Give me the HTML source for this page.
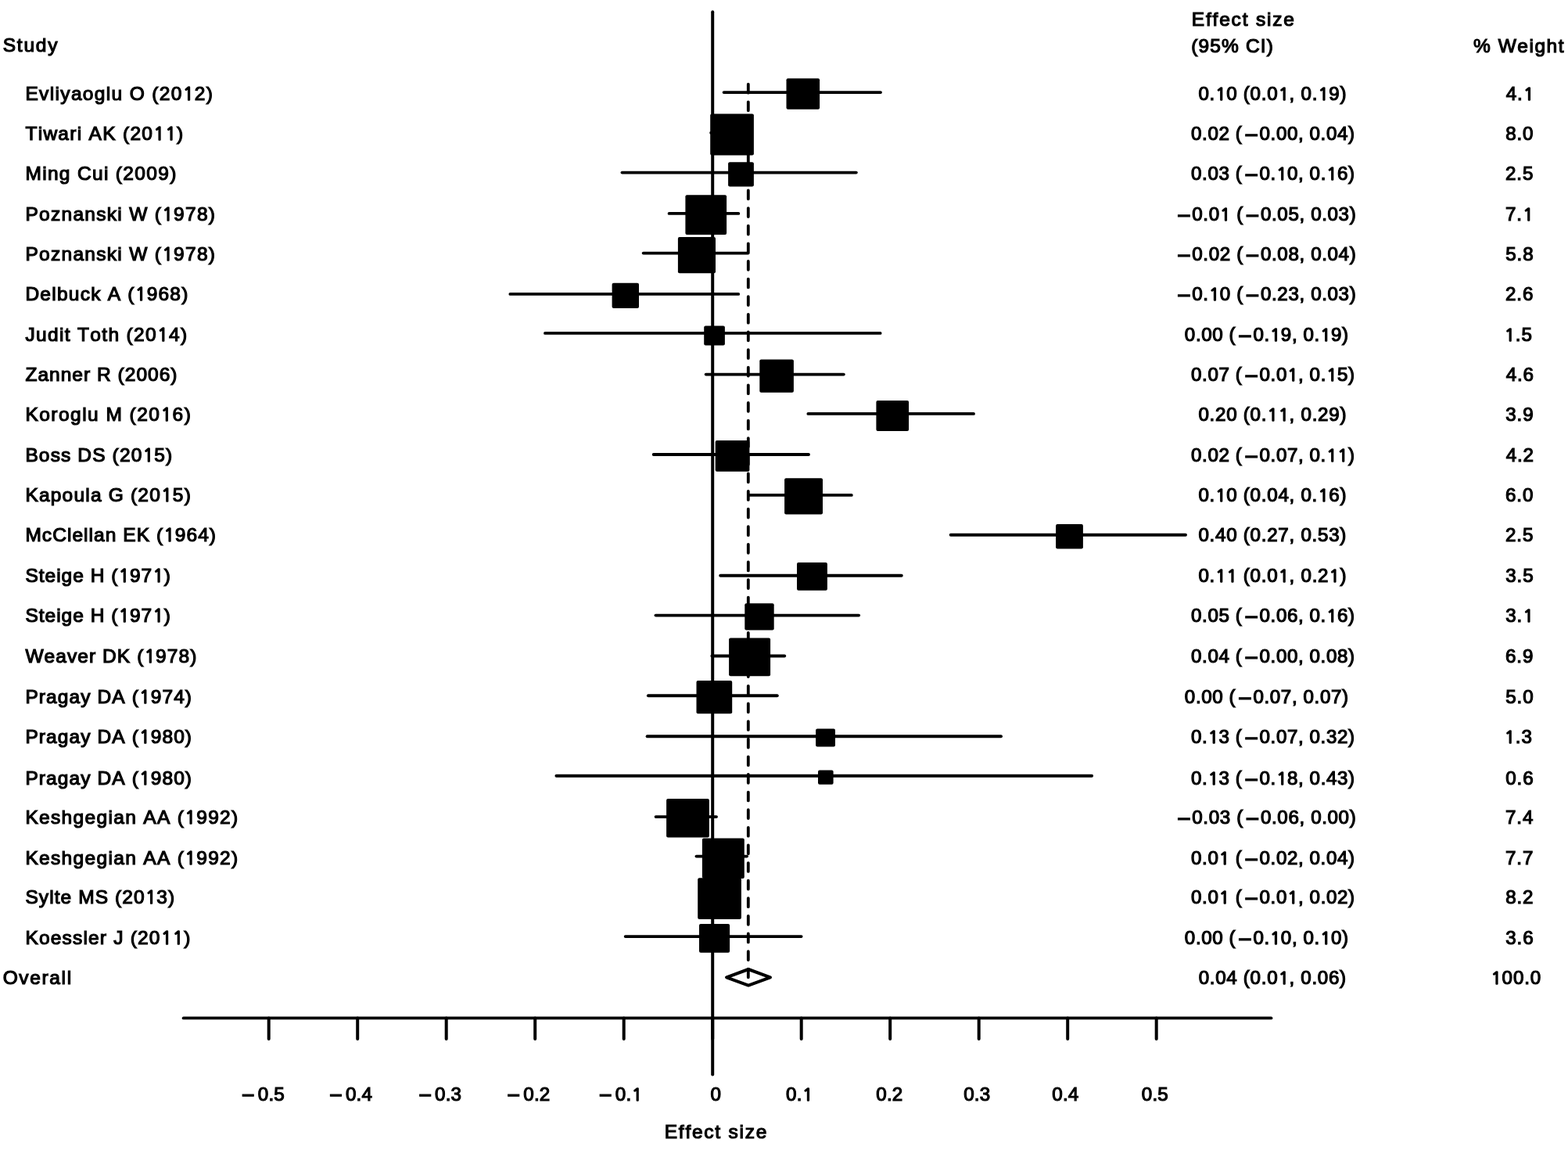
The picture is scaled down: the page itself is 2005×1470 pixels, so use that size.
<!DOCTYPE html>
<html><head><meta charset="utf-8"><title>Forest plot</title>
<style>html,body{margin:0;padding:0;background:#fff;} svg{display:block;} .o{font-family:"NanumGothic","Liberation Sans",sans-serif;font-size:22.5988px;stroke-width:1.7px;}</style>
</head><body>
<svg width="2005" height="1470" viewBox="0 0 2005 1470">
<rect width="2005" height="1470" fill="#fff"/>
<line x1="911.2" y1="15.3" x2="911.2" y2="1373.5" stroke="#000" stroke-width="4" stroke-linecap="round"/>
<line x1="956.8" y1="107.75" x2="956.8" y2="1249.3" stroke="#000" stroke-width="3.8" stroke-linecap="round" stroke-dasharray="10.9 11.72"/>
<line x1="925.6" y1="118.1" x2="1126.0" y2="118.1" stroke="#000" stroke-width="3.9" stroke-linecap="round"/>
<rect x="1005.5" y="100.3" width="42.6" height="39.4" rx="2" ry="2" fill="#000"/>
<line x1="909.2" y1="169.8" x2="956.6" y2="169.8" stroke="#000" stroke-width="3.9" stroke-linecap="round"/>
<rect x="908.2" y="145.5" width="55.7" height="52.9" rx="2" ry="2" fill="#000"/>
<line x1="795.5" y1="220.6" x2="1094.8" y2="220.6" stroke="#000" stroke-width="3.9" stroke-linecap="round"/>
<rect x="931.1" y="207.3" width="32.8" height="31.3" rx="2" ry="2" fill="#000"/>
<line x1="855.6" y1="272.9" x2="944.3" y2="272.9" stroke="#000" stroke-width="3.9" stroke-linecap="round"/>
<rect x="876.4" y="249.2" width="52.7" height="50.8" rx="2" ry="2" fill="#000"/>
<line x1="822.7" y1="323.6" x2="956.6" y2="323.6" stroke="#000" stroke-width="3.9" stroke-linecap="round"/>
<rect x="866.9" y="302.9" width="48.1" height="46.4" rx="2" ry="2" fill="#000"/>
<line x1="652.4" y1="375.9" x2="944.2" y2="375.9" stroke="#000" stroke-width="3.9" stroke-linecap="round"/>
<rect x="782.6" y="361.7" width="34.4" height="32.2" rx="2" ry="2" fill="#000"/>
<line x1="697.0" y1="425.9" x2="1125.6" y2="425.9" stroke="#000" stroke-width="3.9" stroke-linecap="round"/>
<rect x="900.2" y="416.5" width="26.7" height="25.1" rx="2" ry="2" fill="#000"/>
<line x1="902.7" y1="478.6" x2="1078.8" y2="478.6" stroke="#000" stroke-width="3.9" stroke-linecap="round"/>
<rect x="971.3" y="459.4" width="43.6" height="42.3" rx="2" ry="2" fill="#000"/>
<line x1="1033.4" y1="528.9" x2="1245.0" y2="528.9" stroke="#000" stroke-width="3.9" stroke-linecap="round"/>
<rect x="1120.4" y="512.0" width="41.7" height="38.9" rx="2" ry="2" fill="#000"/>
<line x1="835.7" y1="581.0" x2="1034.0" y2="581.0" stroke="#000" stroke-width="3.9" stroke-linecap="round"/>
<rect x="914.7" y="563.1" width="43.7" height="39.6" rx="2" ry="2" fill="#000"/>
<line x1="957.9" y1="632.9" x2="1088.8" y2="632.9" stroke="#000" stroke-width="3.9" stroke-linecap="round"/>
<rect x="1003.1" y="611.3" width="48.9" height="46.1" rx="2" ry="2" fill="#000"/>
<line x1="1215.7" y1="683.8" x2="1516.0" y2="683.8" stroke="#000" stroke-width="3.9" stroke-linecap="round"/>
<rect x="1350.1" y="670.0" width="34.8" height="31.6" rx="2" ry="2" fill="#000"/>
<line x1="921.2" y1="735.8" x2="1152.8" y2="735.8" stroke="#000" stroke-width="3.9" stroke-linecap="round"/>
<rect x="1019.0" y="719.0" width="38.9" height="35.8" rx="2" ry="2" fill="#000"/>
<line x1="838.5" y1="786.6" x2="1098.1" y2="786.6" stroke="#000" stroke-width="3.9" stroke-linecap="round"/>
<rect x="952.3" y="771.3" width="37.4" height="34.3" rx="2" ry="2" fill="#000"/>
<line x1="910.4" y1="838.5" x2="1003.2" y2="838.5" stroke="#000" stroke-width="3.9" stroke-linecap="round"/>
<rect x="932.1" y="815.4" width="53.0" height="48.9" rx="2" ry="2" fill="#000"/>
<line x1="828.9" y1="889.3" x2="993.8" y2="889.3" stroke="#000" stroke-width="3.9" stroke-linecap="round"/>
<rect x="890.5" y="870.0" width="45.7" height="42.2" rx="2" ry="2" fill="#000"/>
<line x1="827.6" y1="941.2" x2="1280.0" y2="941.2" stroke="#000" stroke-width="3.9" stroke-linecap="round"/>
<rect x="1043.1" y="931.6" width="24.9" height="22.9" rx="2" ry="2" fill="#000"/>
<line x1="711.4" y1="991.8" x2="1396.1" y2="991.8" stroke="#000" stroke-width="3.9" stroke-linecap="round"/>
<rect x="1046.0" y="984.4" width="19.6" height="18.4" rx="2" ry="2" fill="#000"/>
<line x1="838.6" y1="1044.1" x2="916.0" y2="1044.1" stroke="#000" stroke-width="3.9" stroke-linecap="round"/>
<rect x="852.1" y="1020.9" width="54.8" height="49.7" rx="2" ry="2" fill="#000"/>
<line x1="890.5" y1="1094.6" x2="955.0" y2="1094.6" stroke="#000" stroke-width="3.9" stroke-linecap="round"/>
<rect x="897.9" y="1071.4" width="53.9" height="51.6" rx="2" ry="2" fill="#000"/>
<line x1="902.0" y1="1146.7" x2="932.0" y2="1146.7" stroke="#000" stroke-width="3.9" stroke-linecap="round"/>
<rect x="892.2" y="1122.2" width="55.7" height="52.9" rx="2" ry="2" fill="#000"/>
<line x1="799.7" y1="1197.1" x2="1024.6" y2="1197.1" stroke="#000" stroke-width="3.9" stroke-linecap="round"/>
<rect x="894.0" y="1181.1" width="39.1" height="36.6" rx="2" ry="2" fill="#000"/>
<polygon points="929,1249.3 957,1239 985,1249.3 957,1259.6" fill="none" stroke="#000" stroke-width="4" stroke-linejoin="round"/>
<line x1="234.6" y1="1301.4" x2="1625.5" y2="1301.4" stroke="#000" stroke-width="3.8" stroke-linecap="round"/>
<line x1="343.7" y1="1301.4" x2="343.7" y2="1328" stroke="#000" stroke-width="4" stroke-linecap="round"/>
<line x1="457.2" y1="1301.4" x2="457.2" y2="1328" stroke="#000" stroke-width="4" stroke-linecap="round"/>
<line x1="570.7" y1="1301.4" x2="570.7" y2="1328" stroke="#000" stroke-width="4" stroke-linecap="round"/>
<line x1="684.2" y1="1301.4" x2="684.2" y2="1328" stroke="#000" stroke-width="4" stroke-linecap="round"/>
<line x1="797.7" y1="1301.4" x2="797.7" y2="1328" stroke="#000" stroke-width="4" stroke-linecap="round"/>
<line x1="911.2" y1="1301.4" x2="911.2" y2="1328" stroke="#000" stroke-width="4" stroke-linecap="round"/>
<line x1="1024.7" y1="1301.4" x2="1024.7" y2="1328" stroke="#000" stroke-width="4" stroke-linecap="round"/>
<line x1="1138.2" y1="1301.4" x2="1138.2" y2="1328" stroke="#000" stroke-width="4" stroke-linecap="round"/>
<line x1="1251.7" y1="1301.4" x2="1251.7" y2="1328" stroke="#000" stroke-width="4" stroke-linecap="round"/>
<line x1="1365.2" y1="1301.4" x2="1365.2" y2="1328" stroke="#000" stroke-width="4" stroke-linecap="round"/>
<line x1="1478.7" y1="1301.4" x2="1478.7" y2="1328" stroke="#000" stroke-width="4" stroke-linecap="round"/>
<g font-family="'Liberation Sans', Arial, Helvetica, sans-serif" font-size="24.5" fill="#000" stroke="#000" stroke-width="1.2" style="font-kerning:none;font-variant-ligatures:none">
<text letter-spacing="0.2" font-size="24.2"><tspan x="309.08" y="1410.18" font-size="28.82">−</tspan><tspan x="329.75" y="1406.70">0.5</tspan></text>
<text letter-spacing="0.2" font-size="24.2"><tspan x="421.28" y="1410.18" font-size="28.82">−</tspan><tspan x="441.95" y="1406.70">0.4</tspan></text>
<text letter-spacing="0.2" font-size="24.2"><tspan x="535.38" y="1410.18" font-size="28.82">−</tspan><tspan x="556.05" y="1406.70">0.3</tspan></text>
<text letter-spacing="0.2" font-size="24.2"><tspan x="648.58" y="1410.18" font-size="28.82">−</tspan><tspan x="669.25" y="1406.70">0.2</tspan></text>
<text letter-spacing="0.2" font-size="24.2"><tspan x="766.08" y="1410.18" font-size="28.82">−</tspan><tspan x="786.75" y="1406.70">0.</tspan><tspan x="807.64" y="1406.70" class="o" style="font-size:22.32px">1</tspan></text>
<text letter-spacing="0.2" font-size="24.2"><tspan x="908.45" y="1406.70">0</tspan></text>
<text letter-spacing="0.2" font-size="24.2"><tspan x="1005.05" y="1406.70">0.</tspan><tspan x="1025.94" y="1406.70" class="o" style="font-size:22.32px">1</tspan></text>
<text letter-spacing="0.2" font-size="24.2"><tspan x="1120.25" y="1406.70">0.2</tspan></text>
<text letter-spacing="0.2" font-size="24.2"><tspan x="1232.15" y="1406.70">0.3</tspan></text>
<text letter-spacing="0.2" font-size="24.2"><tspan x="1345.25" y="1406.70">0.4</tspan></text>
<text letter-spacing="0.2" font-size="24.2"><tspan x="1459.75" y="1406.70">0.5</tspan></text>
<text letter-spacing="1.748"><tspan x="849.79" y="1454.90">Effect size</tspan></text>
<text letter-spacing="1.778"><tspan x="3.69" y="66.40">Study</tspan></text>
<text letter-spacing="1.353"><tspan x="32.40" y="128.00">Evliyaoglu O (20</tspan><tspan x="234.10" y="128.00" class="o">1</tspan><tspan x="248.78" y="128.00">2)</tspan></text>
<text letter-spacing="1.292"><tspan x="32.40" y="179.00">Tiwari AK (20</tspan><tspan x="196.53" y="179.00" class="o">1</tspan><tspan x="211.45" y="179.00" class="o">1</tspan><tspan x="226.07" y="179.00">)</tspan></text>
<text letter-spacing="1.33"><tspan x="32.40" y="230.00">Ming Cui (2009)</tspan></text>
<text letter-spacing="1.296"><tspan x="32.40" y="282.00">Poznanski W (</tspan><tspan x="207.48" y="282.00" class="o">1</tspan><tspan x="222.10" y="282.00">978)</tspan></text>
<text letter-spacing="1.296"><tspan x="32.40" y="333.00">Poznanski W (</tspan><tspan x="207.48" y="333.00" class="o">1</tspan><tspan x="222.10" y="333.00">978)</tspan></text>
<text letter-spacing="1.249"><tspan x="32.40" y="384.00">Delbuck A (</tspan><tspan x="173.07" y="384.00" class="o">1</tspan><tspan x="187.64" y="384.00">968)</tspan></text>
<text letter-spacing="1.344"><tspan x="32.40" y="436.00">Judit Toth (20</tspan><tspan x="201.32" y="436.00" class="o">1</tspan><tspan x="215.99" y="436.00">4)</tspan></text>
<text letter-spacing="1.026"><tspan x="32.40" y="487.00">Zanner R (2006)</tspan></text>
<text letter-spacing="1.475"><tspan x="32.40" y="538.00">Koroglu M (20</tspan><tspan x="205.75" y="538.00" class="o">1</tspan><tspan x="220.55" y="538.00">6)</tspan></text>
<text letter-spacing="1.137"><tspan x="32.40" y="590.00">Boss DS (20</tspan><tspan x="182.73" y="590.00" class="o">1</tspan><tspan x="197.20" y="590.00">5)</tspan></text>
<text letter-spacing="1.201"><tspan x="32.40" y="641.00">Kapoula G (20</tspan><tspan x="206.31" y="641.00" class="o">1</tspan><tspan x="220.83" y="641.00">5)</tspan></text>
<text letter-spacing="1.052"><tspan x="32.40" y="692.00">McClellan EK (</tspan><tspan x="209.44" y="692.00" class="o">1</tspan><tspan x="223.82" y="692.00">964)</tspan></text>
<text letter-spacing="1.002"><tspan x="32.40" y="744.00">Steige H (</tspan><tspan x="151.65" y="744.00" class="o">1</tspan><tspan x="165.98" y="744.00">97</tspan><tspan x="195.54" y="744.00" class="o">1</tspan><tspan x="209.87" y="744.00">)</tspan></text>
<text letter-spacing="1.002"><tspan x="32.40" y="795.00">Steige H (</tspan><tspan x="151.65" y="795.00" class="o">1</tspan><tspan x="165.98" y="795.00">97</tspan><tspan x="195.54" y="795.00" class="o">1</tspan><tspan x="209.87" y="795.00">)</tspan></text>
<text letter-spacing="1.069"><tspan x="32.40" y="847.00">Weaver DK (</tspan><tspan x="184.68" y="847.00" class="o">1</tspan><tspan x="199.07" y="847.00">978)</tspan></text>
<text letter-spacing="1.102"><tspan x="32.40" y="899.00">Pragay DA (</tspan><tspan x="178.26" y="899.00" class="o">1</tspan><tspan x="192.68" y="899.00">974)</tspan></text>
<text letter-spacing="1.102"><tspan x="32.40" y="950.00">Pragay DA (</tspan><tspan x="178.26" y="950.00" class="o">1</tspan><tspan x="192.68" y="950.00">980)</tspan></text>
<text letter-spacing="1.102"><tspan x="32.40" y="1003.00">Pragay DA (</tspan><tspan x="178.26" y="1003.00" class="o">1</tspan><tspan x="192.68" y="1003.00">980)</tspan></text>
<text letter-spacing="1.331"><tspan x="32.40" y="1053.00">Keshgegian AA (</tspan><tspan x="236.53" y="1053.00" class="o">1</tspan><tspan x="251.19" y="1053.00">992)</tspan></text>
<text letter-spacing="1.331"><tspan x="32.40" y="1105.00">Keshgegian AA (</tspan><tspan x="236.53" y="1105.00" class="o">1</tspan><tspan x="251.19" y="1105.00">992)</tspan></text>
<text letter-spacing="1.083"><tspan x="32.40" y="1155.00">Sylte MS (20</tspan><tspan x="185.94" y="1155.00" class="o">1</tspan><tspan x="200.35" y="1155.00">3)</tspan></text>
<text letter-spacing="1.188"><tspan x="32.40" y="1207.00">Koessler J (20</tspan><tspan x="205.93" y="1207.00" class="o">1</tspan><tspan x="220.74" y="1207.00" class="o">1</tspan><tspan x="235.25" y="1207.00">)</tspan></text>
<text letter-spacing="1.649"><tspan x="3.64" y="1258.00">Overall</tspan></text>
<text letter-spacing="1.808"><tspan x="1523.79" y="33.40">Effect size</tspan></text>
<text letter-spacing="1.125"><tspan x="1523.28" y="66.60">(95% CI)</tspan></text>
<text letter-spacing="1.53"><tspan x="1884.03" y="66.60">% Weight</tspan></text>
<text letter-spacing="0.716" font-size="24.2"><tspan x="1532.45" y="128.40">0.</tspan><tspan x="1554.37" y="128.40" class="o" style="font-size:22.32px">1</tspan><tspan x="1568.24" y="128.40">0 (0.0</tspan><tspan x="1634.72" y="128.40" class="o" style="font-size:22.32px">1</tspan><tspan x="1648.60" y="128.40">, 0.</tspan><tspan x="1685.39" y="128.40" class="o" style="font-size:22.32px">1</tspan><tspan x="1699.27" y="128.40">9)</tspan></text>
<text letter-spacing="0.9" font-size="24.2"><tspan x="1925.64" y="128.40">4.</tspan><tspan x="1947.93" y="128.40" class="o" style="font-size:22.32px">1</tspan></text>
<text letter-spacing="0.583" font-size="24.2"><tspan x="1523.05" y="179.40">0.02 (</tspan><tspan x="1591.51" y="183.43" font-size="30.46">−</tspan><tspan x="1610.57" y="179.40">0.00, 0.04)</tspan></text>
<text letter-spacing="0.9" font-size="24.2"><tspan x="1925.15" y="179.40">8.0</tspan></text>
<text letter-spacing="0.583" font-size="24.2"><tspan x="1523.05" y="230.40">0.03 (</tspan><tspan x="1591.51" y="234.43" font-size="30.46">−</tspan><tspan x="1610.57" y="230.40">0.</tspan><tspan x="1632.21" y="230.40" class="o" style="font-size:22.32px">1</tspan><tspan x="1645.96" y="230.40">0, 0.</tspan><tspan x="1696.26" y="230.40" class="o" style="font-size:22.32px">1</tspan><tspan x="1710.00" y="230.40">6)</tspan></text>
<text letter-spacing="0.9" font-size="24.2"><tspan x="1924.98" y="230.40">2.5</tspan></text>
<text letter-spacing="0.616" font-size="24.2"><tspan x="1505.20" y="286.43" font-size="30.46">−</tspan><tspan x="1524.25" y="282.40">0.0</tspan><tspan x="1560.04" y="282.40" class="o" style="font-size:22.32px">1</tspan><tspan x="1573.82" y="282.40"> (</tspan><tspan x="1592.87" y="286.43" font-size="30.46">−</tspan><tspan x="1611.93" y="282.40">0.05, 0.03)</tspan></text>
<text letter-spacing="0.9" font-size="24.2"><tspan x="1924.96" y="282.40">7.</tspan><tspan x="1947.24" y="282.40" class="o" style="font-size:22.32px">1</tspan></text>
<text letter-spacing="0.616" font-size="24.2"><tspan x="1505.20" y="337.43" font-size="30.46">−</tspan><tspan x="1524.25" y="333.40">0.02 (</tspan><tspan x="1592.87" y="337.43" font-size="30.46">−</tspan><tspan x="1611.93" y="333.40">0.08, 0.04)</tspan></text>
<text letter-spacing="0.9" font-size="24.2"><tspan x="1925.23" y="333.40">5.8</tspan></text>
<text letter-spacing="0.616" font-size="24.2"><tspan x="1505.20" y="388.43" font-size="30.46">−</tspan><tspan x="1524.25" y="384.40">0.</tspan><tspan x="1545.97" y="384.40" class="o" style="font-size:22.32px">1</tspan><tspan x="1559.74" y="384.40">0 (</tspan><tspan x="1592.87" y="388.43" font-size="30.46">−</tspan><tspan x="1611.93" y="384.40">0.23, 0.03)</tspan></text>
<text letter-spacing="0.9" font-size="24.2"><tspan x="1924.98" y="384.40">2.6</tspan></text>
<text letter-spacing="0.596" font-size="24.2"><tspan x="1514.85" y="436.40">0.00 (</tspan><tspan x="1583.37" y="440.43" font-size="30.46">−</tspan><tspan x="1602.43" y="436.40">0.</tspan><tspan x="1624.10" y="436.40" class="o" style="font-size:22.32px">1</tspan><tspan x="1637.86" y="436.40">9, 0.</tspan><tspan x="1688.23" y="436.40" class="o" style="font-size:22.32px">1</tspan><tspan x="1701.98" y="436.40">9)</tspan></text>
<text letter-spacing="0.9" font-size="24.2"><tspan x="1923.80" y="436.40" class="o" style="font-size:22.32px">1</tspan><tspan x="1937.86" y="436.40">.5</tspan></text>
<text letter-spacing="0.583" font-size="24.2"><tspan x="1523.05" y="487.40">0.07 (</tspan><tspan x="1591.51" y="491.43" font-size="30.46">−</tspan><tspan x="1610.57" y="487.40">0.0</tspan><tspan x="1646.26" y="487.40" class="o" style="font-size:22.32px">1</tspan><tspan x="1660.00" y="487.40">, 0.</tspan><tspan x="1696.26" y="487.40" class="o" style="font-size:22.32px">1</tspan><tspan x="1710.00" y="487.40">5)</tspan></text>
<text letter-spacing="0.9" font-size="24.2"><tspan x="1925.64" y="487.40">4.6</tspan></text>
<text letter-spacing="0.716" font-size="24.2"><tspan x="1532.45" y="538.40">0.20 (0.</tspan><tspan x="1620.55" y="538.40" class="o" style="font-size:22.32px">1</tspan><tspan x="1634.72" y="538.40" class="o" style="font-size:22.32px">1</tspan><tspan x="1648.60" y="538.40">, 0.29)</tspan></text>
<text letter-spacing="0.9" font-size="24.2"><tspan x="1925.28" y="538.40">3.9</tspan></text>
<text letter-spacing="0.583" font-size="24.2"><tspan x="1523.05" y="590.40">0.02 (</tspan><tspan x="1591.51" y="594.43" font-size="30.46">−</tspan><tspan x="1610.57" y="590.40">0.07, 0.</tspan><tspan x="1696.26" y="590.40" class="o" style="font-size:22.32px">1</tspan><tspan x="1710.30" y="590.40" class="o" style="font-size:22.32px">1</tspan><tspan x="1724.04" y="590.40">)</tspan></text>
<text letter-spacing="0.9" font-size="24.2"><tspan x="1925.64" y="590.40">4.2</tspan></text>
<text letter-spacing="0.716" font-size="24.2"><tspan x="1532.45" y="641.40">0.</tspan><tspan x="1554.37" y="641.40" class="o" style="font-size:22.32px">1</tspan><tspan x="1568.24" y="641.40">0 (0.04, 0.</tspan><tspan x="1685.39" y="641.40" class="o" style="font-size:22.32px">1</tspan><tspan x="1699.27" y="641.40">6)</tspan></text>
<text letter-spacing="0.9" font-size="24.2"><tspan x="1924.97" y="641.40">6.0</tspan></text>
<text letter-spacing="0.716" font-size="24.2"><tspan x="1532.45" y="692.40">0.40 (0.27, 0.53)</tspan></text>
<text letter-spacing="0.9" font-size="24.2"><tspan x="1924.98" y="692.40">2.5</tspan></text>
<text letter-spacing="0.716" font-size="24.2"><tspan x="1532.45" y="744.40">0.</tspan><tspan x="1554.37" y="744.40" class="o" style="font-size:22.32px">1</tspan><tspan x="1568.54" y="744.40" class="o" style="font-size:22.32px">1</tspan><tspan x="1582.42" y="744.40"> (0.0</tspan><tspan x="1634.72" y="744.40" class="o" style="font-size:22.32px">1</tspan><tspan x="1648.60" y="744.40">, 0.2</tspan><tspan x="1699.57" y="744.40" class="o" style="font-size:22.32px">1</tspan><tspan x="1713.44" y="744.40">)</tspan></text>
<text letter-spacing="0.9" font-size="24.2"><tspan x="1925.28" y="744.40">3.5</tspan></text>
<text letter-spacing="0.583" font-size="24.2"><tspan x="1523.05" y="795.40">0.05 (</tspan><tspan x="1591.51" y="799.43" font-size="30.46">−</tspan><tspan x="1610.57" y="795.40">0.06, 0.</tspan><tspan x="1696.26" y="795.40" class="o" style="font-size:22.32px">1</tspan><tspan x="1710.00" y="795.40">6)</tspan></text>
<text letter-spacing="0.9" font-size="24.2"><tspan x="1925.28" y="795.40">3.</tspan><tspan x="1947.56" y="795.40" class="o" style="font-size:22.32px">1</tspan></text>
<text letter-spacing="0.583" font-size="24.2"><tspan x="1523.05" y="847.40">0.04 (</tspan><tspan x="1591.51" y="851.43" font-size="30.46">−</tspan><tspan x="1610.57" y="847.40">0.00, 0.08)</tspan></text>
<text letter-spacing="0.9" font-size="24.2"><tspan x="1924.97" y="847.40">6.9</tspan></text>
<text letter-spacing="0.596" font-size="24.2"><tspan x="1514.85" y="899.40">0.00 (</tspan><tspan x="1583.37" y="903.43" font-size="30.46">−</tspan><tspan x="1602.43" y="899.40">0.07, 0.07)</tspan></text>
<text letter-spacing="0.9" font-size="24.2"><tspan x="1925.23" y="899.40">5.0</tspan></text>
<text letter-spacing="0.583" font-size="24.2"><tspan x="1523.05" y="950.40">0.</tspan><tspan x="1544.70" y="950.40" class="o" style="font-size:22.32px">1</tspan><tspan x="1558.44" y="950.40">3 (</tspan><tspan x="1591.51" y="954.43" font-size="30.46">−</tspan><tspan x="1610.57" y="950.40">0.07, 0.32)</tspan></text>
<text letter-spacing="0.9" font-size="24.2"><tspan x="1923.80" y="950.40" class="o" style="font-size:22.32px">1</tspan><tspan x="1937.86" y="950.40">.3</tspan></text>
<text letter-spacing="0.583" font-size="24.2"><tspan x="1523.05" y="1003.40">0.</tspan><tspan x="1544.70" y="1003.40" class="o" style="font-size:22.32px">1</tspan><tspan x="1558.44" y="1003.40">3 (</tspan><tspan x="1591.51" y="1007.43" font-size="30.46">−</tspan><tspan x="1610.57" y="1003.40">0.</tspan><tspan x="1632.21" y="1003.40" class="o" style="font-size:22.32px">1</tspan><tspan x="1645.96" y="1003.40">8, 0.43)</tspan></text>
<text letter-spacing="0.9" font-size="24.2"><tspan x="1925.25" y="1003.40">0.6</tspan></text>
<text letter-spacing="0.616" font-size="24.2"><tspan x="1505.20" y="1057.43" font-size="30.46">−</tspan><tspan x="1524.25" y="1053.40">0.03 (</tspan><tspan x="1592.87" y="1057.43" font-size="30.46">−</tspan><tspan x="1611.93" y="1053.40">0.06, 0.00)</tspan></text>
<text letter-spacing="0.9" font-size="24.2"><tspan x="1924.96" y="1053.40">7.4</tspan></text>
<text letter-spacing="0.583" font-size="24.2"><tspan x="1523.05" y="1105.40">0.0</tspan><tspan x="1558.74" y="1105.40" class="o" style="font-size:22.32px">1</tspan><tspan x="1572.49" y="1105.40"> (</tspan><tspan x="1591.51" y="1109.43" font-size="30.46">−</tspan><tspan x="1610.57" y="1105.40">0.02, 0.04)</tspan></text>
<text letter-spacing="0.9" font-size="24.2"><tspan x="1924.96" y="1105.40">7.7</tspan></text>
<text letter-spacing="0.583" font-size="24.2"><tspan x="1523.05" y="1155.40">0.0</tspan><tspan x="1558.74" y="1155.40" class="o" style="font-size:22.32px">1</tspan><tspan x="1572.49" y="1155.40"> (</tspan><tspan x="1591.51" y="1159.43" font-size="30.46">−</tspan><tspan x="1610.57" y="1155.40">0.0</tspan><tspan x="1646.26" y="1155.40" class="o" style="font-size:22.32px">1</tspan><tspan x="1660.00" y="1155.40">, 0.02)</tspan></text>
<text letter-spacing="0.9" font-size="24.2"><tspan x="1925.15" y="1155.40">8.2</tspan></text>
<text letter-spacing="0.596" font-size="24.2"><tspan x="1514.85" y="1207.40">0.00 (</tspan><tspan x="1583.37" y="1211.43" font-size="30.46">−</tspan><tspan x="1602.43" y="1207.40">0.</tspan><tspan x="1624.10" y="1207.40" class="o" style="font-size:22.32px">1</tspan><tspan x="1637.86" y="1207.40">0, 0.</tspan><tspan x="1688.23" y="1207.40" class="o" style="font-size:22.32px">1</tspan><tspan x="1701.98" y="1207.40">0)</tspan></text>
<text letter-spacing="0.9" font-size="24.2"><tspan x="1925.28" y="1207.40">3.6</tspan></text>
<text letter-spacing="0.685" font-size="24.2"><tspan x="1532.65" y="1258.40">0.04 (0.0</tspan><tspan x="1634.64" y="1258.40" class="o" style="font-size:22.32px">1</tspan><tspan x="1648.49" y="1258.40">, 0.06)</tspan></text>
<text letter-spacing="0.9" font-size="24.2"><tspan x="1906.50" y="1258.40" class="o" style="font-size:22.32px">1</tspan><tspan x="1920.56" y="1258.40">00.0</tspan></text>
</g>
</svg>
</body></html>
